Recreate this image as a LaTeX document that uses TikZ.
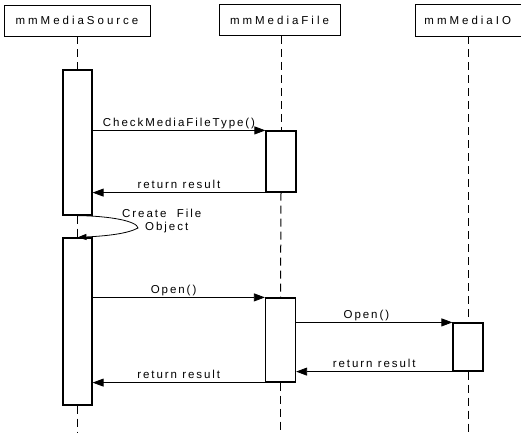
\documentclass[tikz,border=0pt]{standalone}
\usepackage{fontspec}
\setmainfont{Liberation Sans}
\usetikzlibrary{arrows.meta}
\begin{document}
\begin{tikzpicture}[x=1pt,y=-1pt,
  head/.style={draw, line width=0.9pt, minimum height=31pt, inner sep=0pt,
    font=\fontsize{11.5}{13}\selectfont\addfontfeature{LetterSpace=26}},
  act/.style={draw, line width=1.2pt, fill=white, inner sep=0pt, minimum width=29pt},
  life/.style={line width=1pt, dash pattern=on 8pt off 5pt},
  msg/.style={line width=0.8pt, -{Triangle[length=11pt,width=8pt]}},
  lbl/.style={font=\fontsize{11.5}{13}\selectfont\addfontfeature{LetterSpace=17}, anchor=base, yshift=4pt, inner sep=0pt},
  boxline/.style={line width=0.9pt}
]
\clip (0,0) rectangle (521,432);
% headers
\node[head, minimum width=146pt] (hs) at (77,20.5) {mmMediaSource};
\node[head, minimum width=121pt] (hf) at (279.5,20) {mmMediaFile};
\node[head, draw=none, anchor=west, inner xsep=9pt] (hio) at (415,20.5) {mmMediaIO};
\draw[boxline] ([xshift=120pt]hio.north west) -- (hio.north west) -- (hio.south west) -- ([xshift=120pt]hio.south west);
% activation boxes
\node[act, minimum height=145pt] (src1) at (77.5,142.5) {};
\node[act, minimum height=167pt] (src2) at (77.5,321.5) {};
\node[act, minimum width=30pt, minimum height=61pt] (f1) at (281,161.5) {};
\node[act, minimum width=30pt, minimum height=84pt] (f2) at (280.5,340) {};
\node[act, minimum width=30pt, minimum height=48pt] (io1) at (468,347) {};
% lifelines
\draw[life] (src1.north |- hs.south) -- (src1.north);
\draw[life] (src1.south) -- (src2.north);
\draw[life] (src2.south) -- (src2.south |- 0,432);
\draw[life] (f1.north |- hf.south) -- (f1.north);
\draw[life] (f1.south) -- (f2.north);
\draw[life] (f2.south) -- (f2.south |- 0,432);
\draw[life] (io1.north |- hio.south) -- (io1.north);
\draw[life] (io1.south) -- (io1.south |- 0,432);
% messages
\draw[msg] (f1.north west -| src1.east) -- node[lbl] {CheckMediaFileType()} (f1.north west);
\draw[msg] (f1.south west) -- node[lbl] {return result} (f1.south west -| src1.east);
\draw[msg] (f2.north west -| src2.east) -- node[lbl, pos=0.47] {Open()} (f2.north west);
\draw[msg] (f2.south west) -- node[lbl] {return result} (f2.south west -| src2.east);
\draw[msg] (io1.north west -| f2.east) -- node[lbl, pos=0.45] {Open()} (io1.north west);
\draw[msg] (io1.south west) -- node[lbl] {return result} (io1.south west -| f2.east);
% self message
\draw[line width=0.8pt, -{Triangle[length=9pt,width=6pt]}] (src1.south) .. controls (110,216) and (137,221) .. (138,228) .. controls (127,234) and (105,236) .. (src2.north);
\node[font=\fontsize{11.5}{13}\selectfont\addfontfeature{LetterSpace=17}, align=left, inner sep=0pt, anchor=north west] (cfo) at (122,209) {Create\ \ File\\\hspace{23pt}Object};
\end{tikzpicture}
\end{document}
